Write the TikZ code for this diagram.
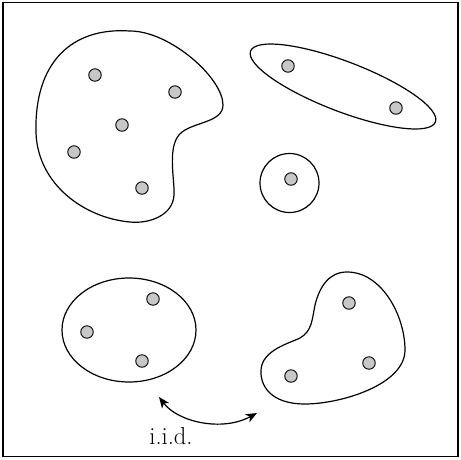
\documentclass[tikz,border=0pt]{standalone}
\usetikzlibrary{arrows.meta}
\begin{document}
\begin{tikzpicture}[x=1pt,y=-1pt,
  blob/.style={line width=1.2pt},
  pt/.style={circle,draw,line width=0.9pt,fill=black!22,minimum size=12.5pt,inner sep=0pt},
  lbl/.style={font=\fontsize{24.5}{28}\selectfont, anchor=base}]
\useasboundingbox (0,0) rectangle (461,459);
\node[draw,line width=1.3pt,minimum width=455pt,minimum height=454pt,inner sep=0pt] (frame) at (230.5,229.5) {};
% blob 1
\draw[blob] (36,133) .. controls (34,62) and (72,27) .. (130,31)
  .. controls (170,31) and (223,78) .. (223,105)
  .. controls (223,122) and (195,122) .. (182,132)
  .. controls (166,144) and (175,180) .. (174,195)
  .. controls (173,215) and (150,224) .. (130,222)
  .. controls (85,218) and (38,185) .. (36,133) -- cycle;
\node[pt] (p1) at (95,75) {};
\node[pt] (p2) at (175,92) {};
\node[pt] (p3) at (122,125) {};
\node[pt] (p4) at (74,152) {};
\node[pt] (p5) at (142,188) {};
% ellipse top right
\draw[blob,rotate around={-21:(343,86.5)}] (343,86.5) ellipse [x radius=99pt, y radius=25pt];
\node[pt] (q1) at (288,66) {};
\node[pt] (q2) at (396,108) {};
% small circle
\draw[blob] (289.5,183) circle [radius=29.5pt];
\node[pt] (r1) at (291,179) {};
% bottom-left ellipse
\draw[blob] (129,330) ellipse [x radius=67pt, y radius=52pt];
\node[pt] (s1) at (153,299) {};
\node[pt] (s2) at (87,332) {};
\node[pt] (s3) at (142,361) {};
% bottom-right blob
\draw[blob] (347,272) .. controls (382,272) and (405,316) .. (405,350)
  .. controls (405,385) and (340,404) .. (305,404)
  .. controls (270,404) and (260,385) .. (261,370)
  .. controls (262,350) and (290,343) .. (300,338)
  .. controls (312,331) and (312,320) .. (315,305)
  .. controls (320,285) and (330,272) .. (347,272) -- cycle;
\node[pt] (t1) at (349,303) {};
\node[pt] (t2) at (369,363) {};
\node[pt] (t3) at (291,376) {};
% arrow
\coordinate (a1) at (159,397);
\coordinate (a2) at (257,413);
\draw[line width=1.2pt,{Stealth[length=11pt,width=9pt,inset=3pt]}-{Stealth[length=11pt,width=9pt,inset=3pt]}] (a1) .. controls (178,422) and (222,432) .. (a2);
\node[lbl] (iid) at (171,444) {i.i.d.};
\end{tikzpicture}
\end{document}
